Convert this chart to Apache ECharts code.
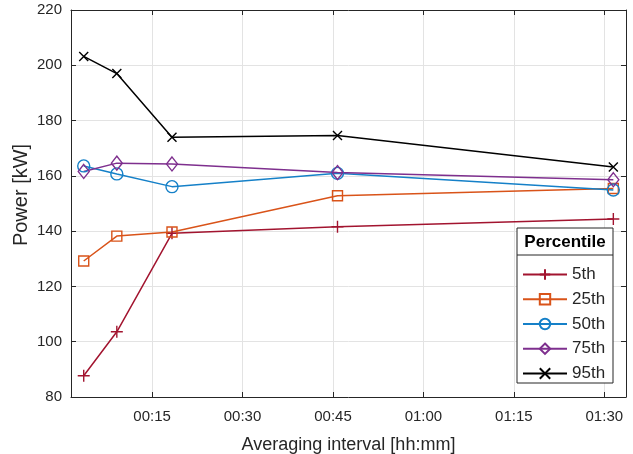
<!DOCTYPE html>
<html>
<head>
<meta charset="utf-8">
<script src="https://cdn.jsdelivr.net/npm/echarts@6/dist/echarts.min.js"></script>
<style>
  html, body { margin: 0; padding: 0; background: #fff; }
  #chart { width: 633px; height: 454px; }
</style>
</head>
<body>
<div id="chart"></div>
<script>
// averaging interval in minutes
const intervals = [3.66, 9.15, 18.3, 45.75, 91.5]
const p5 = [87.7, 103.6, 139.2, 141.6, 144.4]
const p25 = [129.2, 138.2, 139.7, 152.8, 155.4]
const p50 = [163.6, 160.7, 156.1, 160.9, 154.9]
const p75 = [161.6, 164.6, 164.3, 161.2, 158.6]
const p95 = [203.2, 197.0, 174.0, 174.6, 163.2]
const xTicks = [15, 30, 45, 60, 75, 90]
const seriesNames = ['5th', '25th', '50th', '75th', '95th']

const myChart = echarts.init(document.getElementById('chart'))

const textColor = '#262626'
const axisColor = '#262626'
const font = 'Liberation Sans'

function hhmm(v) {
  const h = Math.floor(v / 60)
  const m = Math.round(v % 60)
  return String(h).padStart(2, '0') + ':' + String(m).padStart(2, '0')
}

function pairs(ys) {
  return intervals.map((x, i) => [x, ys[i]])
}

const plusPath = 'path://M0,5L10,5M5,0L5,10'
const crossPath = 'path://M0,0L10,10M10,0L0,10'

function makeSeries(name, ys, color, symbol, size) {
  return {
    name: name,
    type: 'line',
    data: pairs(ys),
    symbol: symbol,
    symbolSize: size,
    lineStyle: { color: color, width: 1.5 },
    itemStyle: { color: 'rgba(0,0,0,0)', borderColor: color, borderWidth: 1.4 },
    emphasis: { disabled: true },
    z: 2
  }
}

const option = {
  animation: false,
  grid: { left: 71, right: 7, top: 10, bottom: 57, outerBoundsMode: 'none', containLabel: false },
  xAxis: [
    {
      type: 'value',
      min: 1.55,
      max: 93.6,
      name: 'Averaging interval [hh:mm]',
      nameLocation: 'middle',
      nameGap: 39,
      nameTextStyle: { fontFamily: font, fontSize: 18, color: textColor },
      axisLine: { show: true, lineStyle: { color: axisColor, width: 1 } },
      axisTick: { show: true, inside: true, length: 5, customValues: xTicks, lineStyle: { color: axisColor } },
      axisLabel: {
        customValues: xTicks,
        formatter: hhmm,
        fontFamily: font, fontSize: 15, color: textColor, margin: 12
      },
      splitLine: { show: true, lineStyle: { color: '#e3e3e3', width: 1 } }
    },
    {
      type: 'value',
      position: 'top',
      min: 1.55,
      max: 93.6,
      axisLine: { show: true, lineStyle: { color: axisColor, width: 1 } },
      axisTick: { show: true, inside: true, length: 5, customValues: xTicks, lineStyle: { color: axisColor } },
      axisLabel: { show: false, customValues: xTicks },
      splitLine: { show: false }
    }
  ],
  yAxis: [
    {
      type: 'value',
      min: 80,
      max: 220,
      interval: 20,
      axisLine: { show: true, lineStyle: { color: axisColor, width: 1 } },
      axisTick: { show: true, inside: true, length: 5, lineStyle: { color: axisColor } },
      axisLabel: { fontFamily: font, fontSize: 15, color: textColor, margin: 9 },
      splitLine: { show: true, lineStyle: { color: '#e3e3e3', width: 1 } }
    },
    {
      type: 'value',
      position: 'right',
      min: 80,
      max: 220,
      interval: 20,
      axisLine: { show: true, lineStyle: { color: axisColor, width: 1 } },
      axisTick: { show: true, inside: true, length: 5, lineStyle: { color: axisColor } },
      axisLabel: { show: false },
      splitLine: { show: false }
    }
  ],
  legend: {
    orient: 'vertical',
    left: 522,
    top: 266,
    padding: 0,
    itemWidth: 44,
    itemHeight: 13,
    itemGap: 7.75,
    data: seriesNames,
    textStyle: { fontFamily: font, fontSize: 17, color: textColor },
    z: 5
  },
  graphic: [
    {
      // y axis title
      type: 'text',
      x: 21,
      y: 195,
      rotation: Math.PI / 2,
      style: {
        text: 'Power [kW]',
        fontFamily: font,
        fontSize: 20,
        fill: textColor,
        align: 'center',
        verticalAlign: 'middle'
      }
    },
    {
      type: 'rect',
      z: 3,
      shape: { x: 517, y: 228, width: 96, height: 155 },
      style: { fill: '#fff', stroke: axisColor, lineWidth: 1 }
    },
    {
      type: 'line',
      z: 4,
      shape: { x1: 517, y1: 255, x2: 613, y2: 255 },
      style: { stroke: axisColor, lineWidth: 1 }
    },
    {
      type: 'text',
      z: 4,
      x: 565,
      y: 242,
      style: {
        text: 'Percentile',
        fontFamily: font,
        fontSize: 17,
        fontWeight: 'bold',
        fill: '#000',
        align: 'center',
        verticalAlign: 'middle'
      }
    }
  ],
  series: [
    makeSeries('5th', p5, '#A2142F', plusPath, 12),
    makeSeries('25th', p25, '#D95319', 'rect', 10),
    makeSeries('50th', p50, '#1580C8', 'circle', 12),
    makeSeries('75th', p75, '#7E2F8E', 'diamond', [11, 14]),
    makeSeries('95th', p95, '#000000', crossPath, 9)
  ]
}

myChart.setOption(option)
</script>
</body>
</html>
